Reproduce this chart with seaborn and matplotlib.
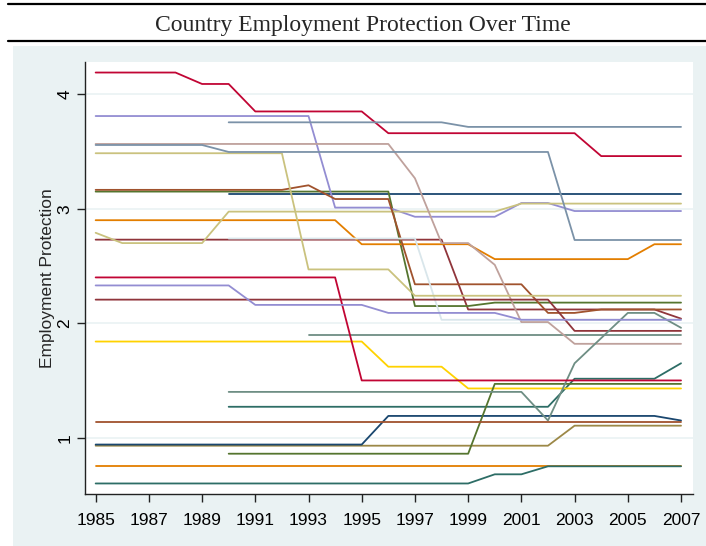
import numpy as np
import pandas as pd
import matplotlib
matplotlib.use("Agg")
import matplotlib.pyplot as plt
from matplotlib.lines import Line2D
from matplotlib.patches import Rectangle
import seaborn as sns

nan = np.nan
years = list(range(1985, 2008))

# Employment protection index per country, 1985-2007 (nan = not yet reported)
s01 = [nan]*5 + [3.13]*18
s02 = [2.73]*14 + [2.12]*8 + [2.04]
s03 = [3.15]*12 + [2.15]*3 + [2.18]*8
s04 = [2.90]*10 + [2.69]*5 + [2.56]*6 + [2.69]*2
s05 = [nan]*8 + [1.90]*15
s06 = [4.19]*4 + [4.09]*2 + [3.85]*5 + [3.66]*8 + [3.46]*4
s07 = [3.81]*9 + [3.01]*3 + [2.93]*4 + [3.05]*2 + [2.98]*5
s08 = [2.79] + [2.70]*4 + [2.975]*11 + [3.045]*7
s09 = [3.165]*8 + [3.205] + [3.085]*3 + [2.34]*5 + [2.09]*2 + [2.12]*4
s10 = [nan]*5 + [3.755]*9 + [3.715]*9
s11 = [nan]*5 + [1.27]*13 + [1.515]*4 + [1.65]
s12 = [0.93]*18 + [1.105]*5
s13 = [3.566]*12 + [3.266, 2.70, 2.70, 2.51, 2.01, 2.01] + [1.82]*5
s14 = [1.84]*11 + [1.62]*3 + [1.43]*9
s15 = [nan]*5 + [2.74]*8 + [2.03]*10
s16 = [0.94]*11 + [1.19]*11 + [1.15]
s17 = [2.206]*18 + [1.933]*5
s18 = [nan]*5 + [0.86]*10 + [1.47]*8
s19 = [0.75]*23
s20 = [nan]*5 + [1.40]*12 + [1.15, 1.65, 1.87, 2.09, 2.09, 1.96]
s21 = [2.40]*10 + [1.50]*13
s22 = [2.33]*6 + [2.16]*5 + [2.09]*5 + [2.03]*7
s23 = [3.485]*8 + [2.47]*4 + [2.24]*11
s24 = [1.14]*23
s25 = [3.557]*5 + [3.496]*13 + [2.727]*5
s26 = [0.60]*15 + [0.68]*2 + [0.75]*6

series = [s01, s02, s03, s04, s05, s06, s07, s08, s09, s10, s11, s12, s13,
          s14, s15, s16, s17, s18, s19, s20, s21, s22, s23, s24, s25, s26]

stata_colors = ["#1a476f", "#90353b", "#55752f", "#e37e00", "#6e8e84",
                "#c10534", "#938dd2", "#cac27e", "#a0522d", "#7b92a8",
                "#2d6d66", "#9c8847", "#bfa19c", "#ffd200", "#d9e6eb"]

rows = []
for i, vals in enumerate(series):
    for yr, v in zip(years, vals):
        if not np.isnan(v):
            rows.append({"country": f"c{i+1:02d}", "year": yr, "epl": v})
df = pd.DataFrame(rows)
order = [f"c{i+1:02d}" for i in range(len(series))]
palette = {k: stata_colors[i % len(stata_colors)] for i, k in enumerate(order)}

sns.set_theme(style="white")
plt.rcParams["font.family"] = ["Liberation Sans", "DejaVu Sans"]

W, H = 706, 546
fig = plt.figure(figsize=(W/100, H/100), dpi=100, facecolor="white")

# graph region background
fig.add_artist(Rectangle((13/W, 0), 1 - 13/W, 1 - 46/H, transform=fig.transFigure,
                         facecolor="#eaf2f3", edgecolor="none", zorder=0))
# title rules
for ypix in (3.5, 40.5):
    fig.add_artist(Line2D([8/W, 1], [1 - ypix/H]*2, transform=fig.transFigure,
                          color="black", lw=1.6))
fig.text(363/W, 1 - 25/H, "Country Employment Protection Over Time",
         ha="center", va="center", fontsize=17, family="Liberation Serif")

ax = fig.add_axes([85/W, 1 - 494/H, (693 - 85)/W, (494 - 62)/H])
ax.set_facecolor("white")

sns.lineplot(data=df, x="year", y="epl", hue="country", hue_order=order,
             palette=palette, estimator=None, legend=False, lw=1.3, ax=ax)

ax.set_xlim(1984.6, 2007.45)
ax.set_ylim(0.508, 4.282)
ax.set_xticks(list(range(1985, 2008, 2)))
ax.set_yticks([1, 2, 3, 4])
ax.yaxis.grid(True, color="#eaf2f3", lw=1.2)
ax.xaxis.grid(False)
ax.set_axisbelow(True)
for side in ("top", "right"):
    ax.spines[side].set_visible(False)
for side in ("left", "bottom"):
    ax.spines[side].set_color("#222222")
    ax.spines[side].set_linewidth(1.0)
ax.tick_params(axis="both", direction="out", length=6, width=1.0, color="#222222",
               labelsize=12.5, labelcolor="black", left=True, bottom=True)
ax.tick_params(axis="x", pad=8)
ax.tick_params(axis="y", labelrotation=90, pad=3)
for lab in ax.get_yticklabels():
    lab.set_va("center")
ax.set_xlabel("")
ax.set_ylabel("Employment Protection", fontsize=12.5, labelpad=2)

fig.savefig("out.png", dpi=100, facecolor="white")
